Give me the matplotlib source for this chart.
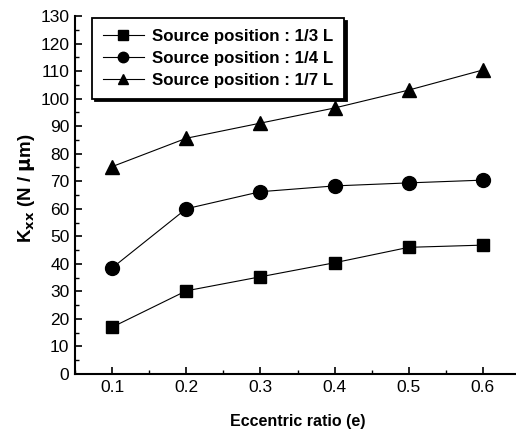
import matplotlib
matplotlib.use('Agg')
import matplotlib.pyplot as plt
from matplotlib.ticker import MultipleLocator

plt.rcParams['font.family'] = ['Liberation Sans', 'DejaVu Sans']

ecc = [0.1, 0.2, 0.3, 0.4, 0.5, 0.6]
k_13 = [17.0, 30.2, 35.3, 40.4, 46.0, 46.8]
k_14 = [38.5, 60.0, 66.2, 68.3, 69.4, 70.4]
k_17 = [75.3, 85.6, 91.1, 96.6, 103.1, 110.4]
labels = ['Source position : 1/3 L', 'Source position : 1/4 L', 'Source position : 1/7 L']

W, H = 516, 434
fig = plt.figure(figsize=(W / 100, H / 100), dpi=100)
# axes spans x 0.05..0.65 (right edge slightly past the image), y 0..130
left, right, bottom, top = 75, 520, 374, 16
ax = fig.add_axes([left / W, 1 - bottom / H, (right - left) / W, (bottom - top) / H])

ax.plot(ecc, k_13, color='black', lw=0.8, marker='s', ms=9, label=labels[0])
ax.plot(ecc, k_14, color='black', lw=0.8, marker='o', ms=10, label=labels[1])
ax.plot(ecc, k_17, color='black', lw=0.8, marker='^', ms=10, label=labels[2])

ax.set_xlim(0.05, 0.65)
ax.set_ylim(0, 130)
ax.xaxis.set_minor_locator(MultipleLocator(0.05))
ax.yaxis.set_major_locator(MultipleLocator(10))
ax.yaxis.set_minor_locator(MultipleLocator(5))
ax.set_xticks([0.1, 0.2, 0.3, 0.4, 0.5, 0.6])
ax.set_xticklabels(['0.1', '0.2', '0.3', '0.4', '0.5', '0.6'])

for s in ['top', 'right']:
    ax.spines[s].set_visible(False)
for s in ['left', 'bottom']:
    ax.spines[s].set_linewidth(1.5)

ax.tick_params(which='major', direction='in', length=5, width=1.2, labelsize=12.5, pad=4)
ax.tick_params(which='minor', direction='in', length=3, width=1.0)

ax.set_xlabel('Eccentric ratio (e)', fontsize=11.5, fontweight='bold', labelpad=14)
ax.set_ylabel(r'K$_{\mathbf{xx}}$ (N / $\mathbf{\mu}$m)', fontsize=13.5, fontweight='bold')
ax.yaxis.set_label_coords(-0.085, 0.52)

leg = ax.legend(loc='upper left', bbox_to_anchor=(92 / W, 1 - 18 / H),
                bbox_transform=fig.transFigure, fancybox=False, frameon=True,
                shadow={'color': 'black', 'alpha': 1}, edgecolor='black',
                prop={'weight': 'bold', 'size': 12.2}, handlelength=2.4,
                markerscale=0.75, borderpad=0.65, labelspacing=0.4,
                handletextpad=0.5, borderaxespad=0)
leg.get_frame().set_linewidth(1.3)
leg.get_frame().set_alpha(1)

fig.savefig('out.png', dpi=100)
